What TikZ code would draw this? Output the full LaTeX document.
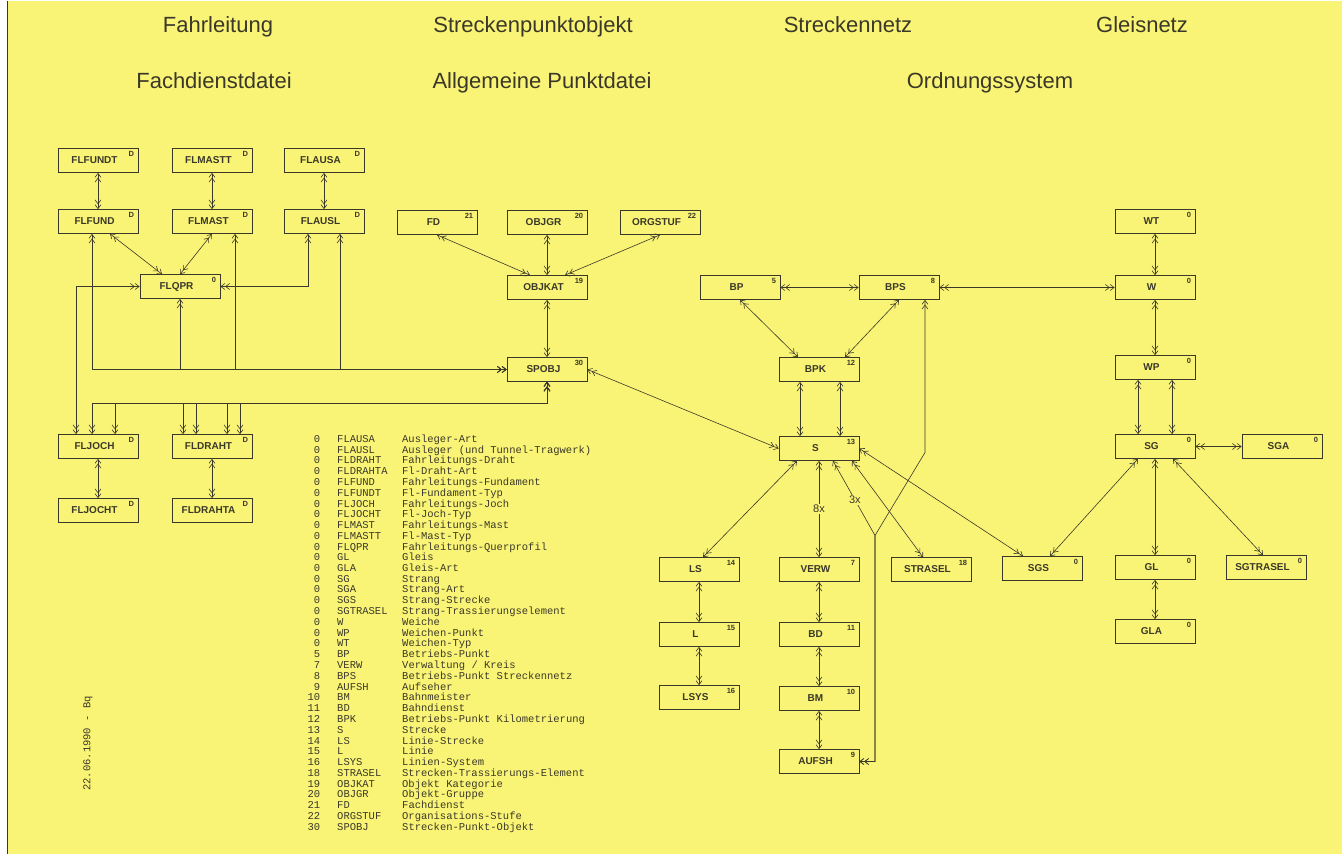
\documentclass[tikz,border=0pt]{standalone}
\usepackage{fontspec}
\setmainfont{Liberation Sans}
\setmonofont{Liberation Mono}
\usetikzlibrary{arrows.meta}
\definecolor{plotpaper}{RGB}{250,244,118}
\definecolor{plotink}{RGB}{58,56,40}

\begin{document}
\begin{tikzpicture}[x=1pt, y=-1pt,
    box/.style={draw=plotink, line width=0.7pt, minimum width=80pt, minimum height=24pt, inner sep=0pt,
      font=\fontsize{10}{11}\selectfont\bfseries, text=plotink, execute at end node={\hspace{7pt}}},
    num/.style={font=\fontsize{7.5}{8}\selectfont\bfseries, text=plotink, inner sep=0pt, anchor=north east, xshift=-4pt, yshift=-3pt},
    rel/.style={<->, draw=plotink, line width=0.6pt},
    head/.style={font=\fontsize{22}{26}\selectfont, text=plotink, anchor=base},
    mult/.style={font=\fontsize{11}{13}\selectfont, text=plotink, fill=plotpaper, inner sep=1pt},
    >={Straight Barb[length=4pt,width=6pt] Straight Barb[length=4pt,width=6pt]}]

  % paper
  \fill[plotpaper] (0,0) rectangle (1342,853);
  \fill[white] (0,0) rectangle (7,853);
  \draw[plotink, line width=1pt] (7,0) -- (7,853);
  \useasboundingbox (0,0) rectangle (1342,853);

  % headings
  \node[head] (hFL) at (218,32) {Fahrleitung};
  \node[head] (hSPO) at (533,32) {Streckenpunktobjekt};
  \node[head] (hSN) at (848,32) {Streckennetz};
  \node[head] (hGN) at (1142,32) {Gleisnetz};
  \node[head] (hFD) at (214,88) {Fachdienstdatei};
  \node[head] (hAP) at (542,88) {Allgemeine Punktdatei};
  \node[head] (hOS) at (990,88) {Ordnungssystem};

  % Fahrleitung (Fachdienstdatei)
  \node[box, label={[num]north east:D}] (FLFUNDT) at (98,160) {FLFUNDT};
  \node[box, label={[num]north east:D}] (FLMASTT) at (212,160) {FLMASTT};
  \node[box, label={[num]north east:D}] (FLAUSA) at (324,160) {FLAUSA};
  \node[box, label={[num]north east:D}] (FLFUND) at (98,221) {FLFUND};
  \node[box, label={[num]north east:D}] (FLMAST) at (212,221) {FLMAST};
  \node[box, label={[num]north east:D}] (FLAUSL) at (324,221) {FLAUSL};
  \node[box, label={[num]north east:0}] (FLQPR) at (180,286) {FLQPR};
  \node[box, label={[num]north east:D}] (FLJOCH) at (98,446) {FLJOCH};
  \node[box, label={[num]north east:D}] (FLDRAHT) at (212,446) {FLDRAHT};
  \node[box, label={[num]north east:D}] (FLJOCHT) at (98,510) {FLJOCHT};
  \node[box, label={[num]north east:D}] (FLDRAHTA) at (212,510) {FLDRAHTA};

  % Allgemeine Punktdatei
  \node[box, label={[num]north east:21}] (FD) at (437,222) {FD};
  \node[box, label={[num]north east:20}] (OBJGR) at (547,222) {OBJGR};
  \node[box, label={[num]north east:22}] (ORGSTUF) at (660,222) {ORGSTUF};
  \node[box, label={[num]north east:19}] (OBJKAT) at (547,287) {OBJKAT};
  \node[box, label={[num]north east:30}] (SPOBJ) at (547,369) {SPOBJ};

  % Streckennetz
  \node[box, label={[num]north east:5}] (BP) at (740,287) {BP};
  \node[box, label={[num]north east:8}] (BPS) at (899,287) {BPS};
  \node[box, label={[num]north east:12}] (BPK) at (819,369) {BPK};
  \node[box, label={[num]north east:13}] (S) at (819,448) {S};
  \node[box, label={[num]north east:14}] (LS) at (699,569) {LS};
  \node[box, label={[num]north east:15}] (L) at (699,634) {L};
  \node[box, label={[num]north east:16}] (LSYS) at (699,697) {LSYS};
  \node[box, label={[num]north east:7}] (VERW) at (819,569) {VERW};
  \node[box, label={[num]north east:11}] (BD) at (819,634) {BD};
  \node[box, label={[num]north east:10}] (BM) at (819,698) {BM};
  \node[box, label={[num]north east:9}] (AUFSH) at (819,761) {AUFSH};
  \node[box, label={[num]north east:18}] (STRASEL) at (931,569) {STRASEL};

  % Gleisnetz
  \node[box, label={[num]north east:0}] (WT) at (1155,221) {WT};
  \node[box, label={[num]north east:0}] (W) at (1155,287) {W};
  \node[box, label={[num]north east:0}] (WP) at (1155,367) {WP};
  \node[box, label={[num]north east:0}] (SG) at (1155,446) {SG};
  \node[box, label={[num]north east:0}] (SGA) at (1282,446) {SGA};
  \node[box, label={[num]north east:0}] (SGS) at (1042,568) {SGS};
  \node[box, label={[num]north east:0}] (GL) at (1155,567) {GL};
  \node[box, label={[num]north east:0}] (SGTRASEL) at (1266,567) {SGTRASEL};
  \node[box, label={[num]north east:0}] (GLA) at (1155,631) {GLA};

  % Fahrleitung relations
  \draw[rel] (FLFUNDT) -- (FLFUND);
  \draw[rel] (FLMASTT) -- (FLMAST);
  \draw[rel] (FLAUSA) -- (FLAUSL);
  \draw[rel] ([xshift=12pt]FLFUND.south) -- ([xshift=-18pt]FLQPR.north);
  \draw[rel] (FLMAST.south) -- (FLQPR.north);
  \draw[rel] ([xshift=-16pt]FLAUSL.south) |- (FLQPR.east);
  \draw[rel] ([xshift=-22pt]FLJOCH.north) |- (FLQPR.west);
  \draw[rel] (FLJOCH) -- (FLJOCHT);
  \draw[rel] (FLDRAHT) -- (FLDRAHTA);

  % to SPOBJ, upper line
  \draw[rel] ([xshift=-6pt]FLFUND.south) |- (SPOBJ.west);
  \draw[rel] (FLQPR.south) |- (SPOBJ.west);
  \draw[rel] ([xshift=23pt]FLMAST.south) |- (SPOBJ.west);
  \draw[rel] ([xshift=16pt]FLAUSL.south) |- (SPOBJ.west);

  % from SPOBJ, lower line
  \draw[rel] (SPOBJ.south) -- ++(0,21) -| ([xshift=-6pt]FLJOCH.north);
  \draw[rel] (SPOBJ.south) -- ++(0,21) -| ([xshift=17pt]FLJOCH.north);
  \draw[rel] (SPOBJ.south) -- ++(0,21) -| ([xshift=-29pt]FLDRAHT.north);
  \draw[rel] (SPOBJ.south) -- ++(0,21) -| ([xshift=-16pt]FLDRAHT.north);
  \draw[rel] (SPOBJ.south) -- ++(0,21) -| ([xshift=15pt]FLDRAHT.north);
  \draw[rel] (SPOBJ.south) -- ++(0,21) -| ([xshift=28pt]FLDRAHT.north);

  % Punktdatei relations
  \draw[rel] (FD.south) -- ([xshift=-17pt]OBJKAT.north);
  \draw[rel] (OBJGR) -- (OBJKAT);
  \draw[rel] (ORGSTUF.south) -- ([xshift=18pt]OBJKAT.north);
  \draw[rel] (OBJKAT) -- (SPOBJ);
  \draw[rel] (SPOBJ.east) -- (S.west);

  % Streckennetz relations
  \draw[rel] (BP) -- (BPS);
  \draw[rel] (BP.south) -- ([xshift=-21pt]BPK.north);
  \draw[rel] (BPS.south) -- ([xshift=26pt]BPK.north);
  \draw[rel] ([xshift=-19pt]BPK.south) -- ([xshift=-19pt]S.north);
  \draw[rel] ([xshift=21pt]BPK.south) -- ([xshift=21pt]S.north);
  \draw[rel] (BPS) -- (W);
  \coordinate (bendA) at (925,452);
  \coordinate (bendB) at (875,535);
  \draw[rel] ([xshift=26pt]BPS.south) -- (bendA) -- (bendB) |- (AUFSH.east);
  \draw[rel] ([xshift=14pt]S.south) -- node[mult, pos=0.52]{3x} (bendB) |- (AUFSH.east);
  \draw[rel] ([xshift=-22pt]S.south) -- ([xshift=4pt]LS.north);
  \draw[rel] (S) -- node[mult, pos=0.5]{8x} (VERW);
  \draw[rel] ([xshift=33pt]S.south) -- ([xshift=-8pt]STRASEL.north);
  \draw[rel] (S.east) -- ([xshift=-19pt]SGS.north);
  \draw[rel] (LS) -- (L);
  \draw[rel] (L) -- (LSYS);
  \draw[rel] (VERW) -- (BD);
  \draw[rel] (BD) -- (BM);
  \draw[rel] (BM) -- (AUFSH);

  % Gleisnetz relations
  \draw[rel] (WT) -- (W);
  \draw[rel] (W) -- (WP);
  \draw[rel] ([xshift=-17pt]WP.south) -- ([xshift=-17pt]SG.north);
  \draw[rel] ([xshift=17pt]WP.south) -- ([xshift=17pt]SG.north);
  \draw[rel] (SG) -- (SGA);
  \draw[rel] ([xshift=-17pt]SG.south) -- ([xshift=8pt]SGS.north);
  \draw[rel] (SG) -- (GL);
  \draw[rel] ([xshift=18pt]SG.south) -- ([xshift=-3pt]SGTRASEL.north);
  \draw[rel] (GL) -- (GLA);

  % legend
  \node[anchor=north west, inner sep=0pt, text=plotink, font=\fontsize{10.5}{10.6}\selectfont\ttfamily] (legend) at (307.4,434) {%
    \begin{tabular}{@{}r@{\hspace{17pt}}p{65pt}@{}l@{}}
     0 & FLAUSA   & Ausleger-Art\\
     0 & FLAUSL   & Ausleger (und Tunnel-Tragwerk)\\
     0 & FLDRAHT  & Fahrleitungs-Draht\\
     0 & FLDRAHTA & Fl-Draht-Art\\
     0 & FLFUND   & Fahrleitungs-Fundament\\
     0 & FLFUNDT  & Fl-Fundament-Typ\\
     0 & FLJOCH   & Fahrleitungs-Joch\\
     0 & FLJOCHT  & Fl-Joch-Typ\\
     0 & FLMAST   & Fahrleitungs-Mast\\
     0 & FLMASTT  & Fl-Mast-Typ\\
     0 & FLQPR    & Fahrleitungs-Querprofil\\
     0 & GL       & Gleis\\
     0 & GLA      & Gleis-Art\\
     0 & SG       & Strang\\
     0 & SGA      & Strang-Art\\
     0 & SGS      & Strang-Strecke\\
     0 & SGTRASEL & Strang-Trassierungselement\\
     0 & W        & Weiche\\
     0 & WP       & Weichen-Punkt\\
     0 & WT       & Weichen-Typ\\
     5 & BP       & Betriebs-Punkt\\
     7 & VERW     & Verwaltung / Kreis\\
     8 & BPS      & Betriebs-Punkt Streckennetz\\
     9 & AUFSH    & Aufseher\\
    10 & BM       & Bahnmeister\\
    11 & BD       & Bahndienst\\
    12 & BPK      & Betriebs-Punkt Kilometrierung\\
    13 & S        & Strecke\\
    14 & LS       & Linie-Strecke\\
    15 & L        & Linie\\
    16 & LSYS     & Linien-System\\
    18 & STRASEL  & Strecken-Trassierungs-Element\\
    19 & OBJKAT   & Objekt Kategorie\\
    20 & OBJGR    & Objekt-Gruppe\\
    21 & FD       & Fachdienst\\
    22 & ORGSTUF  & Organisations-Stufe\\
    30 & SPOBJ    & Strecken-Punkt-Objekt
    \end{tabular}};

  % date
  \node[rotate=90, text=plotink, font=\fontsize{10.5}{12}\selectfont\ttfamily] (datum) at (88,743) {22.06.1990 - Bq};
\end{tikzpicture}
\end{document}
